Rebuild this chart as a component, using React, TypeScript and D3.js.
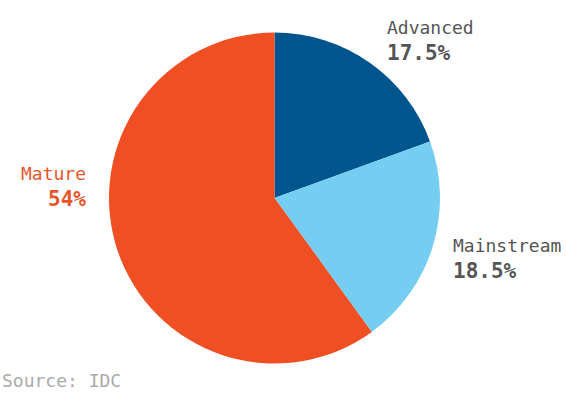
import React, { useEffect, useRef } from 'react';
import * as d3 from 'd3';

// values as printed on the chart (they add to 90, pie normalises)
const segments = ['Advanced', 'Mainstream', 'Mature'];
const shares = [17.5, 18.5, 54];
const shareLabels = ['17.5%', '18.5%', '54%'];
const colors = ['#00558f', '#76cdf2', '#f04e23'];
const labelColors = ['#555555', '#555555', '#e8562a'];
const labelPos = [
  { x: 387, y: 34, anchor: 'start' },
  { x: 453, y: 252, anchor: 'start' },
  { x: 86, y: 180, anchor: 'end' },
];

const W = 566;
const H = 393;

const App = () => {
  const ref = useRef(null);

  useEffect(() => {
    drawPie();
  }, []);

  const drawPie = () => {
    const svg = d3.select(ref.current);
    svg.selectAll('*').remove();

    const cx = 274.5, cy = 198, r = 165.5;
    const pie = d3.pie<number>().sort(null).value(d => d);
    const arc = d3.arc<d3.PieArcDatum<number>>().innerRadius(0).outerRadius(r);

    const g = svg.append('g').attr('transform', `translate(${cx},${cy})`);
    g.selectAll('path')
      .data(pie(shares))
      .enter()
      .append('path')
      .attr('d', arc)
      .attr('fill', (d, i) => colors[i]);

    const font = "'DejaVu Sans Mono', 'Liberation Mono', monospace";
    segments.forEach((name, i) => {
      const p = labelPos[i];
      svg.append('text')
        .attr('x', p.x).attr('y', p.y)
        .attr('text-anchor', p.anchor)
        .attr('font-family', font)
        .attr('font-size', 18)
        .attr('fill', labelColors[i])
        .text(name);
      svg.append('text')
        .attr('x', p.x).attr('y', p.y + 26)
        .attr('text-anchor', p.anchor)
        .attr('font-family', font)
        .attr('font-size', 21)
        .attr('font-weight', 'bold')
        .attr('fill', labelColors[i])
        .text(shareLabels[i]);
    });

    svg.append('text')
      .attr('x', 2).attr('y', 387)
      .attr('font-family', font)
      .attr('font-size', 18)
      .attr('fill', '#aaaaaa')
      .text('Source: IDC');
  };

  return (
    <svg ref={ref} width={W} height={H}
      style={{ position: 'absolute', left: 0, top: 0, background: '#fff' }} />
  );
};

export default App;
